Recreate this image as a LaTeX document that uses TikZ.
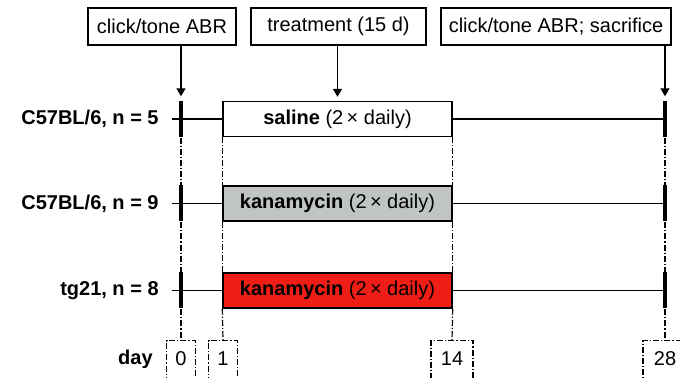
\documentclass[tikz,border=0pt]{standalone}
\usepackage{fontspec}
\setmainfont{Liberation Sans}
\usetikzlibrary{arrows.meta,calc,positioning}
\definecolor{kanagray}{RGB}{192,197,196}
\definecolor{kanared}{RGB}{238,30,22}

\begin{document}
\begin{tikzpicture}[x=0.5pt,y=0.5pt,line width=0.7pt,>={Triangle[length=4pt,width=4.5pt]},
    font=\fontsize{10}{12}\selectfont,
    event/.style={draw,minimum height=18.5pt,inner sep=2pt},
    group/.style={draw,minimum width=114.5pt,minimum height=17.5pt,inner sep=0pt},
    tickbar/.style={fill=black,inner sep=0pt,minimum width=1.8pt,minimum height=18pt},
    daydash/.style={line width=0.6pt,dash pattern=on 3pt off 1pt on 0.6pt off 1pt},
    daybox/.style={draw,daydash,anchor=north,inner xsep=0pt,inner ysep=5pt,text height=7.5pt,text depth=25pt}]
    \clip (0,0) rectangle (680,378);
    % events on top
    \node (ev0) at (162,351.5) [event,minimum width=74pt]{click/tone ABR};
    \node (evT) at (338.5,351.5) [event,minimum width=87.5pt]{treatment (15 d)};
    \node (ev28) at (556,351.5) [event,minimum width=115pt]{click/tone ABR; sacrifice};
    % groups
    \node (sal) at (337.5,259) [group]{\textbf{saline} (2\,× daily)};
    \node (kan) at (337.5,174.5) [group,fill=kanagray]{\textbf{kanamycin} (2\,× daily)};
    \node (kanr) at (337.5,87.5) [group,fill=kanared]{\textbf{kanamycin} (2\,× daily)};
    \node (g1) at (166,259) [anchor=east]{\textbf{C57BL/6, n = 5}};
    \node (g2) at (166,174.5) [anchor=east]{\textbf{C57BL/6, n = 9}};
    \node (g3) at (166,87.5) [anchor=east]{\textbf{tg21, n = 8}};
    % day 0 and day 28 marks
    \node (z01) at (181,259) [tickbar]{};
    \node (z02) at (181,174.5) [tickbar]{};
    \node (z03) at (181,87.5) [tickbar]{};
    \node (z281) at (665,259) [tickbar]{};
    \node (z282) at (665,174.5) [tickbar]{};
    \node (z283) at (665,87.5) [tickbar]{};
    % days
    \node (d0) at (181,38) [daybox,minimum width=14.5pt]{0};
    \node (d1) at (223,38) [daybox,minimum width=14.5pt]{1};
    \node (d14) at (452,38) [daybox,minimum width=21pt]{14};
    \node (d28) at (665,38) [daybox,minimum width=22pt]{28};
    \node (day) at (160,13) [anchor=base east]{\textbf{day}};
    % time lines
    \coordinate (s1) at (172,259);
    \coordinate (s2) at (172,174.5);
    \coordinate (s3) at (172,87.5);
    \draw (s1) -- (sal.west);
    \draw (s2) -- (kan.west);
    \draw (s3) -- (kanr.west);
    \draw (sal.east) -- (z281.center);
    \draw (kan.east) -- (z282.center);
    \draw (kanr.east) -- (z283.center);
    % arrows
    \draw[->,shorten >=2pt] (ev0.south -| z01) -- (z01.north);
    \draw[->,shorten >=2pt] (evT.south -| sal) -- (sal.north);
    \draw[->,shorten >=2pt] (ev28.south -| z281) -- (z281.north);
    % day guides
    \draw[daydash] (z01.south) -- (z02.north);
    \draw[daydash] (z02.south) -- (z03.north);
    \draw[daydash] (z03.south) -- (d0.north);
    \draw[daydash] (sal.south west) -- (kan.north west);
    \draw[daydash] (kan.south west) -- (kanr.north west);
    \draw[daydash] (kanr.south west) -- (d1.north);
    \draw[daydash] (sal.south east) -- (kan.north east);
    \draw[daydash] (kan.south east) -- (kanr.north east);
    \draw[daydash] (kanr.south east) -- (d14.north);
    \draw[daydash] (z281.south) -- (z282.north);
    \draw[daydash] (z282.south) -- (z283.north);
    \draw[daydash] (z283.south) -- (d28.north);
\end{tikzpicture}
\end{document}
